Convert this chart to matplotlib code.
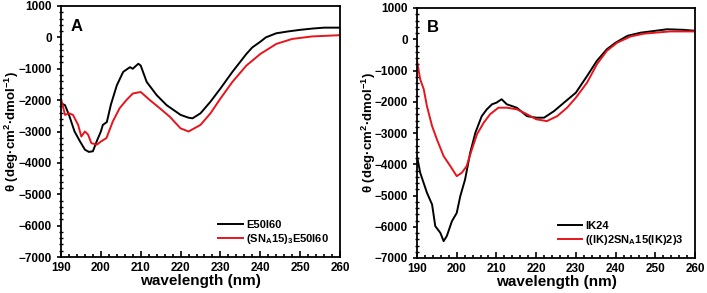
import matplotlib.pyplot as plt
from matplotlib.ticker import MultipleLocator

plt.rcParams['font.family'] = ['Liberation Sans', 'DejaVu Sans']
plt.rcParams['font.weight'] = 'bold'
plt.rcParams['mathtext.fontset'] = 'custom'
plt.rcParams['mathtext.rm'] = 'Liberation Sans:bold'
plt.rcParams['mathtext.bf'] = 'Liberation Sans:bold'
plt.rcParams['mathtext.it'] = 'Liberation Sans:bold'

# Panel A: E50I60 and (SNA15)3E50I60
wl_a_black = [190, 191, 192, 193.4, 194.7, 196, 197, 198, 199, 200, 200.5, 201.5, 202.5, 204, 205.6,
              207.3, 208, 209.4, 210, 211.5, 214, 216.5, 220, 222, 223, 225, 227.5, 230, 233,
              236.5, 238, 240, 241.4, 244, 247, 250, 253, 256, 260]
cd_a_black = [-2100, -2160, -2470, -3000, -3300, -3580, -3650, -3630, -3300, -3000, -2790, -2700,
              -2150, -1530, -1100, -950, -1000, -840, -900, -1420, -1840, -2160, -2470, -2560,
              -2580, -2420, -2050, -1630, -1100, -530, -320, -140, 0, 130, 190, 240, 280, 310, 310]

wl_a_red = [190, 191, 192, 193, 194.3, 195.1, 196, 196.8, 197.6, 199, 200, 201.4, 203, 204.7,
            206.4, 208, 210, 212.3, 214.8, 217.3, 220, 222, 225, 227.5, 230, 233, 236.5, 240,
            244, 248, 253, 260]
cd_a_red = [-1950, -2470, -2420, -2470, -2790, -3160, -3000, -3100, -3370, -3420, -3320, -3210,
            -2680, -2260, -2000, -1790, -1740, -2000, -2260, -2530, -2900, -3000, -2790, -2420,
            -1950, -1420, -900, -530, -210, -50, 30, 70]

# Panel B: IK24 and ((IK)2SNA15(IK)2)3
wl_b_black = [190, 190.8, 192.5, 193.8, 194.6, 195.9, 196.7, 197.5, 198.8, 200, 200.9, 202.1,
              203.4, 204.7, 206.3, 207.6, 208.9, 210, 211.3, 212.6, 215.1, 217.7, 220, 222,
              224.5, 227, 230, 232.8, 235.3, 237.8, 240, 243, 246.3, 250, 253, 257.3, 260]
cd_b_black = [-3740, -4270, -4910, -5290, -5980, -6200, -6460, -6300, -5820, -5560, -5020, -4490,
              -3630, -2990, -2460, -2240, -2080, -2030, -1920, -2080, -2190, -2460, -2510, -2510,
              -2300, -2030, -1710, -1180, -690, -320, -110, 110, 210, 270, 320, 300, 270]

wl_b_red = [190, 190.8, 191.7, 192.5, 193.8, 195, 196.7, 198.4, 200, 201.3, 202.5, 203.8, 205.1,
            206.8, 208.4, 210.5, 212.6, 215.1, 217.7, 220, 222.7, 225.3, 227.8, 230, 232.8,
            235.3, 237.8, 240.4, 243.8, 247.2, 250, 253.7, 260]
cd_b_red = [-690, -1280, -1600, -2140, -2780, -3200, -3740, -4060, -4380, -4270, -4060, -3530,
            -3040, -2670, -2400, -2190, -2190, -2240, -2400, -2560, -2620, -2460, -2190, -1870,
            -1390, -800, -370, -110, 90, 180, 210, 250, 250]

panels = [
    ('A', wl_a_black, cd_a_black, 'E50I60', wl_a_red, cd_a_red, r'(SN$_{A}$15)$_{3}$E50I60'),
    ('B', wl_b_black, cd_b_black, 'IK24', wl_b_red, cd_b_red, r'((IK)2SN$_{A}$15(IK)2)3'),
]

fig = plt.figure(figsize=(7.07, 2.93), dpi=100)
positions = [[61 / 707, 36 / 293, 279 / 707, 251 / 293],
             [417 / 707, 35 / 293, 278 / 707, 250 / 293]]

for pos, (letter, wk, ck, lk, wr, cr, lr) in zip(positions, panels):
    ax = fig.add_axes(pos)
    ax.plot(wk, ck, color='black', lw=1.4, label=lk)
    ax.plot(wr, cr, color='#e8141c', lw=1.4, label=lr)
    ax.set_xlim(190, 260)
    ax.set_ylim(-7000, 1000)
    ax.xaxis.set_major_locator(MultipleLocator(10))
    ax.xaxis.set_minor_locator(MultipleLocator(2))
    ax.yaxis.set_major_locator(MultipleLocator(1000))
    ax.yaxis.set_minor_locator(MultipleLocator(200))
    ax.tick_params(axis='x', which='both', direction='in', labelsize=8.5, width=1.2)
    ax.tick_params(axis='x', which='major', length=4)
    ax.tick_params(axis='x', which='minor', length=2.5)
    ax.tick_params(axis='y', which='major', direction='out', length=3, width=1.2, labelsize=8.5)
    ax.tick_params(axis='y', which='minor', direction='inout', length=3, width=1)
    for lab in ax.get_xticklabels() + ax.get_yticklabels():
        lab.set_fontweight('bold')
    for sp in ax.spines.values():
        sp.set_linewidth(1.3)
    ax.set_xlabel('wavelength (nm)', fontsize=11, fontweight='bold', labelpad=0)
    ax.set_ylabel(r'θ (deg·cm$^{2}$·dmol$^{-1}$)', fontsize=9.5, fontweight='bold')
    ax.yaxis.set_label_coords(-0.142, 0.5)
    ax.text(0.035, 0.95, letter, transform=ax.transAxes, fontsize=12, fontweight='bold',
            va='top', ha='left')
    leg = ax.legend(loc='lower right', frameon=False, fontsize=8, handlelength=2.2,
                    handletextpad=0.3, labelspacing=0.2, borderaxespad=0.6)
    for t in leg.get_texts():
        t.set_fontweight('bold')

fig.savefig('out.png', dpi=100)
